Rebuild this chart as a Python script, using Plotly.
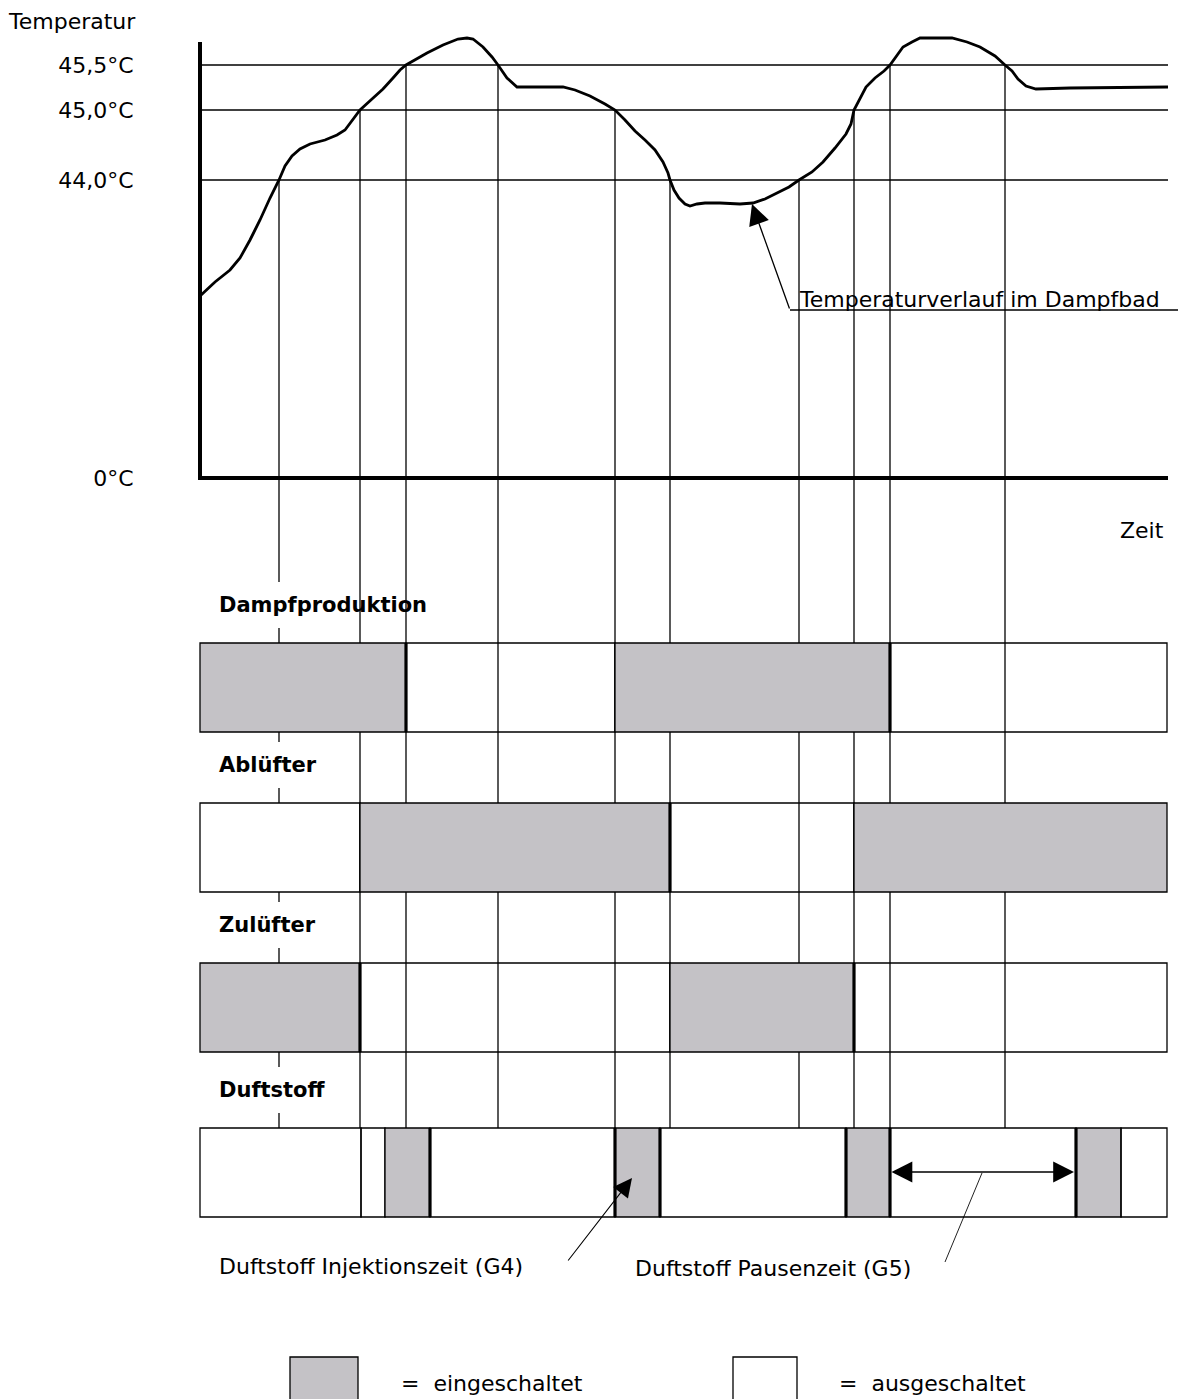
import plotly.graph_objects as go

# ---------------- data ----------------
# time axis ("Zeit"), schematic units
curve_time = [0, 15, 30, 40, 50, 60, 70, 79, 85, 92, 100, 110, 125, 137, 145, 152, 160, 172, 183, 193,
              200, 206, 215, 227, 243, 258, 267, 273, 283, 292, 298, 307, 317, 347, 363, 375, 390, 405,
              415, 425, 435, 445, 455, 463, 468, 470, 474, 479, 485, 490, 497, 505, 520, 540, 553, 565,
              577, 589, 599, 612, 623, 635, 646, 651, 654, 660, 666, 675, 684, 690, 697, 703, 712, 720,
              752, 767, 780, 795, 805, 812, 818, 826, 836, 870, 968]
# temperature on the schematic (non-linear) scale of the chart
curve_level = [182, 196, 208, 220, 238, 258, 280, 298, 312, 322, 329, 334, 338, 343, 348, 357, 368, 379, 389, 400,
               408, 413, 418, 425, 433, 439, 440, 439, 431, 421, 413, 400, 391, 391, 391, 388, 382, 374,
               368, 358, 347, 338, 328, 316, 305, 298, 288, 280, 274, 272, 274, 275, 275, 274, 275, 279,
               285, 291, 298, 306, 316, 330, 344, 354, 368, 380, 391, 400, 407, 413, 423, 431, 436, 440,
               440, 436, 431, 422, 413, 407, 399, 392, 389, 390, 391]

temp_tick_levels = [0, 298, 368, 413]
temp_tick_labels = ["0°C", "44,0°C", "45,0°C", "45,5°C"]
threshold_levels = [298, 368, 413]

event_times = [79, 160, 206, 298, 415, 470, 599, 654, 690, 805]
event_levels = [298, 368, 413, 413, 368, 298, 298, 368, 413, 413]

row_names = ["Dampfproduktion", "Ablüfter", "Zulüfter", "Duftstoff"]
# (start, end, on)
row_states = [
    [(0, 206, 1), (206, 415, 0), (415, 690, 1), (690, 967, 0)],
    [(0, 160, 0), (160, 470, 1), (470, 654, 0), (654, 967, 1)],
    [(0, 160, 1), (160, 470, 0), (470, 654, 1), (654, 967, 0)],
    [(0, 161, 0), (161, 185, 0), (185, 230, 1), (230, 415, 0), (415, 460, 1), (460, 646, 0),
     (646, 690, 1), (690, 876, 0), (876, 921, 1), (921, 967, 0)],
]
row_switch_edges = [[206, 690], [470], [160, 654], [230, 415, 460, 646, 690, 876]]

pause_start, pause_end = 690, 874

# ---------------- layout constants ----------------
T_MIN, T_MAX = -200, 978
Y_MIN, Y_MAX = -921, 478
AXIS_END = 968
AXIS_TOP = 436
ROW_TOP = [-165, -325, -485, -650]
ROW_H = 89
LABEL_OFF = 38
GAP = 23
GRAY = "#c4c2c6"
FONT = "DejaVu Sans"

fig = go.Figure()

shapes = []
def line(x0, y0, x1, y1, w=1.3, color="black"):
    shapes.append(dict(type="line", xref="x", yref="y", x0=x0, y0=y0, x1=x1, y1=y1,
                       line=dict(color=color, width=w)))

# threshold lines
for lv in threshold_levels:
    line(0, lv, AXIS_END, lv, 1.3)

# event lines
duft_top = ROW_TOP[3]
for t, lv in zip(event_times, event_levels):
    if t == event_times[0]:
        # first line: segments between rows with gaps at the row labels
        y_start = lv
        for i, top in enumerate(ROW_TOP):
            lab = top + LABEL_OFF
            line(t, y_start, t, lab + GAP)
            line(t, lab - GAP, t, top)
            y_start = top - ROW_H
    else:
        line(t, lv, t, duft_top)

# bars
for i, states in enumerate(row_states):
    top = ROW_TOP[i]
    for (s, e, on) in states:
        shapes.append(dict(type="rect", xref="x", yref="y", x0=s, x1=e, y0=top - ROW_H, y1=top,
                           fillcolor=GRAY if on else "rgba(0,0,0,0)",
                           line=dict(color="black", width=1.3)))
    for t in row_switch_edges[i]:
        line(t, top, t, top - ROW_H, 3.2)

# axes (thick)
line(0, 0, 0, AXIS_TOP, 4)
line(-2, 0, AXIS_END, 0, 4)

# legend boxes
LEG_Y = -879
shapes.append(dict(type="rect", xref="x", yref="y", x0=90, x1=158, y0=LEG_Y - 80, y1=LEG_Y,
                   fillcolor=GRAY, line=dict(color="black", width=1.3)))
shapes.append(dict(type="rect", xref="x", yref="y", x0=533, x1=597, y0=LEG_Y - 80, y1=LEG_Y,
                   fillcolor="white", line=dict(color="black", width=1.3)))

# temperature curve
fig.add_trace(go.Scatter(x=curve_time, y=curve_level, mode="lines",
                         line=dict(color="black", width=2.8),
                         hoverinfo="skip", showlegend=False))

# leader line for pause time
fig.add_trace(go.Scatter(x=[782, 745], y=[-695, -784], mode="lines",
                         line=dict(color="#222", width=1), hoverinfo="skip", showlegend=False))

ann = []
def text(x, y, s, size=22, bold=False, anchor="left"):
    ann.append(dict(x=x, y=y, xref="x", yref="y", text=f"<b>{s}</b>" if bold else s,
                    showarrow=False, xanchor=anchor, yanchor="middle",
                    font=dict(family=FONT, size=size, color="black")))

text(-194, 457, "Temperatur")
text(918, -52, "Zeit")
for i, name in enumerate(row_names):
    text(17, ROW_TOP[i] + LABEL_OFF, name, size=21, bold=True)
text(597, 179, "Temperaturverlauf im Dampfbad")
line(590, 168, T_MAX, 168, 1.3)
text(17, -788, "Duftstoff Injektionszeit (G4)")
text(433, -790, "Duftstoff Pausenzeit (G5)")
text(199, -905, "=\u00a0 eingeschaltet")
text(637, -905, "=\u00a0 ausgeschaltet")

# arrows
ann.append(dict(x=552, y=274, ax=590, ay=168, xref="x", yref="y", axref="x", ayref="y", text="",
                showarrow=True, arrowhead=2, arrowsize=3.2, arrowwidth=1.3, arrowcolor="black"))
ann.append(dict(x=432, y=-700, ax=367, ay=-784, xref="x", yref="y", axref="x", ayref="y", text="",
                showarrow=True, arrowhead=2, arrowsize=3.4, arrowwidth=1.1, arrowcolor="black"))
ann.append(dict(x=pause_end, y=-694, ax=pause_start, ay=-694, xref="x", yref="y", axref="x", ayref="y",
                text="", showarrow=True, arrowhead=2, startarrowhead=2, arrowside="end+start",
                arrowsize=3.2, startarrowsize=3.2, arrowwidth=1.3, arrowcolor="black"))

fig.update_layout(
    width=1178, height=1399,
    margin=dict(l=0, r=0, t=0, b=0, pad=0),
    paper_bgcolor="white", plot_bgcolor="white",
    shapes=shapes, annotations=ann, showlegend=False,
    xaxis=dict(range=[T_MIN, T_MAX], domain=[0, 1], visible=False, fixedrange=True),
    yaxis=dict(range=[Y_MIN, Y_MAX], domain=[0, 1], anchor="free", position=(0 - T_MIN) / (T_MAX - T_MIN),
               tickvals=temp_tick_levels, ticktext=temp_tick_labels, ticks="outside", ticklen=62,
               tickcolor="rgba(0,0,0,0)", showgrid=False, zeroline=False, showline=False,
               tickfont=dict(family=FONT, size=22, color="black"), automargin=False, fixedrange=True),
)

fig.write_html("out.html", config={"displayModeBar": False},
               post_script="document.body.style.margin='0';document.body.style.overflow='hidden';")
